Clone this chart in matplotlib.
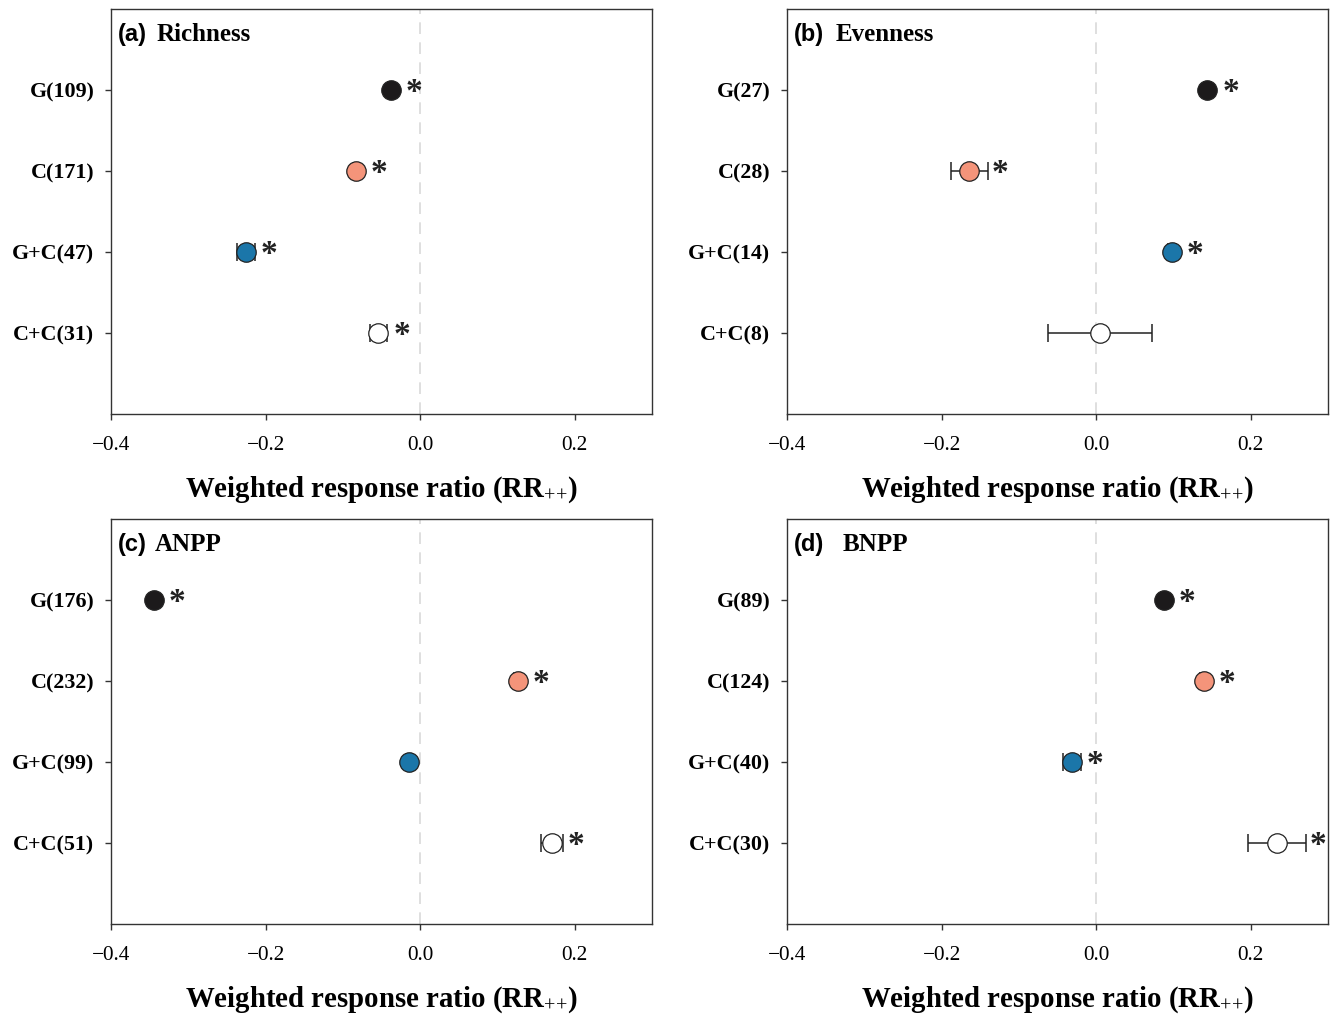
import matplotlib
matplotlib.use("Agg")
import matplotlib.pyplot as plt
import numpy as np

plt.rcParams['mathtext.fontset'] = 'custom'
plt.rcParams['mathtext.rm'] = 'Liberation Serif:bold'
plt.rcParams['mathtext.it'] = 'Liberation Serif:bold'
plt.rcParams['mathtext.bf'] = 'Liberation Serif:bold'
plt.rcParams['mathtext.sf'] = 'Liberation Serif'

panel_letters = ["(a)", "(b)", "(c)", "(d)"]
panel_titles = ["Richness", "Evenness", "ANPP", "BNPP"]

tick_labels = [
    ["G(109)", "C(171)", "G+C(47)", "C+C(31)"],
    ["G(27)", "C(28)", "G+C(14)", "C+C(8)"],
    ["G(176)", "C(232)", "G+C(99)", "C+C(51)"],
    ["G(89)", "C(124)", "G+C(40)", "C+C(30)"],
]

means = [
    [-0.038, -0.083, -0.225, -0.054],
    [0.144, -0.164, 0.098, 0.005],
    [-0.344, 0.126, -0.014, 0.171],
    [0.088, 0.139, -0.031, 0.234],
]
errors = [
    [0.003, 0.004, 0.0115, 0.0115],
    [0.004, 0.024, 0.005, 0.067],
    [0.004, 0.005, 0.004, 0.014],
    [0.004, 0.005, 0.0115, 0.0375],
]
significant = [
    [True, True, True, True],
    [True, True, True, False],
    [True, True, False, True],
    [True, True, True, True],
]

colors = ["#1c1a1b", "#f4947a", "#1b76a9", "#ffffff"]
x_ticks = [-0.4, -0.2, 0.0, 0.2]

fig = plt.figure(figsize=(13.31, 10.15), dpi=100)
W, H = 1331, 1015
boxes = [(111, 9), (787, 9), (111, 519), (787, 519)]
aw, ah = 541, 405
title_x = [0.085, 0.089, 0.081, 0.102]

for i in range(4):
    x0, y0 = boxes[i]
    ax = fig.add_axes([x0 / W, 1 - (y0 + ah) / H, aw / W, ah / H])
    ax.set_xlim(-0.4, 0.3)
    ax.set_ylim(0, 5)
    ax.axvline(0, color="#d9d9d9", lw=1.2, ls=(0, (7, 5)), zorder=0)
    ypos = np.arange(4, 0, -1)
    for j in range(4):
        m, e = means[i][j], errors[i][j]
        ax.errorbar(m, ypos[j], xerr=e, fmt='none', ecolor='#222222',
                    elinewidth=1.1, capsize=6.5, capthick=1.1, zorder=2)
        ax.plot(m, ypos[j], 'o', ms=14, mfc=colors[j], mec='#222222',
                mew=0.9, zorder=3)
        if significant[i][j]:
            xa = max(m + 0.030, m + e + 0.016)
            ax.text(xa, ypos[j] - 0.03, "*", fontsize=24, ha='center',
                    va='center', family='Liberation Serif',
                    fontweight='bold', color='#222222')
    ax.set_yticks(ypos)
    ax.set_yticklabels(tick_labels[i], family='Liberation Serif',
                       fontweight='bold', fontsize=15.8)
    ax.set_xticks(x_ticks)
    ax.set_xticklabels(["\u22120.4", "\u22120.2", "0.0", "0.2"],
                       family='Liberation Serif', fontsize=15.3)
    ax.tick_params(axis='y', direction='out', length=4, width=1,
                   pad=8, color='#333333')
    ax.tick_params(axis='x', direction='out', length=4, width=1,
                   pad=12, color='#333333')
    ax.xaxis.get_major_ticks()[2].tick1line.set_color('#d9d9d9')
    for s in ax.spines.values():
        s.set_linewidth(1.0)
        s.set_color('#333333')
    ax.set_xlabel(r"Weighted response ratio (RR$_{\mathsf{{+}{+}}}$)",
                  family='Liberation Serif', fontweight='bold',
                  fontsize=20.8, labelpad=14)
    ax.text(0.012, 0.936, panel_letters[i], transform=ax.transAxes,
            family='Liberation Sans', fontweight='bold', fontsize=17,
            ha='left', va='center')
    ax.text(title_x[i], 0.936, panel_titles[i], transform=ax.transAxes,
            family='Liberation Serif', fontweight='bold', fontsize=18,
            ha='left', va='center')

fig.savefig("out.png", dpi=100)
